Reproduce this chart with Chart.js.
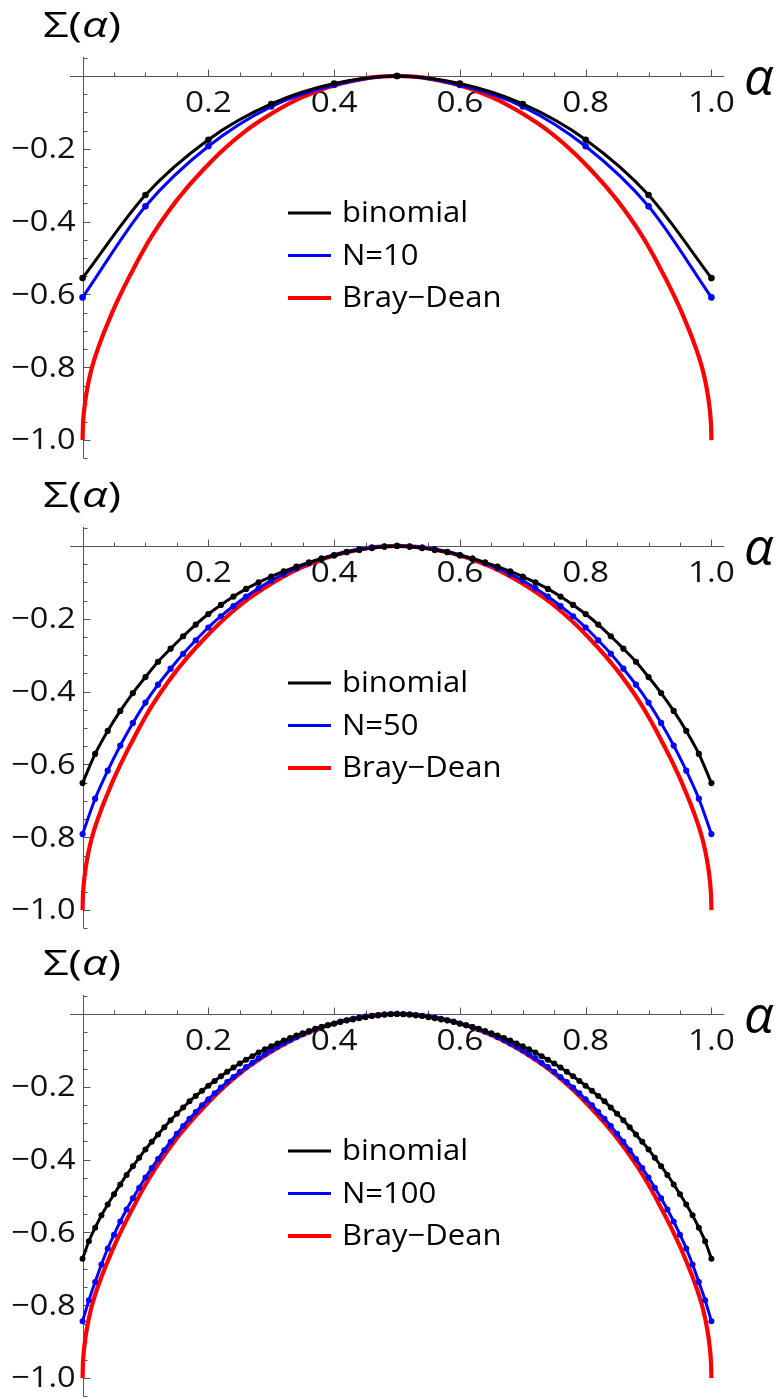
<!DOCTYPE html>
<html><head><meta charset="utf-8">
<script src="https://cdn.jsdelivr.net/npm/chart.js@4.4.1/dist/chart.umd.min.js"></script>
<style>
html,body{margin:0;padding:0;background:#fff;overflow:hidden;width:779px;height:1399px}
canvas{position:absolute;left:0}
</style></head>
<body>
<canvas id="c1" width="779" height="469" style="top:0px"></canvas>
<canvas id="c2" width="779" height="469" style="top:470px"></canvas>
<canvas id="c3" width="779" height="469" style="top:938px"></canvas>
<script>
// ---------- data ----------
const xTickLabels = ['0.2','0.4','0.6','0.8','1.0'];
const xTickValues = [0.2,0.4,0.6,0.8,1.0];
const yTickLabels = ['\u22120.2','\u22120.4','\u22120.6','\u22120.8','\u22121.0'];
const yTickValues = [-0.2,-0.4,-0.6,-0.8,-1.0];
const seriesNames10 = ['binomial','N=10','Bray\u2212Dean'];
const seriesNames50 = ['binomial','N=50','Bray\u2212Dean'];
const seriesNames100 = ['binomial','N=100','Bray\u2212Dean'];

const alpha10 = [0,0.1,0.2,0.3,0.4,0.5,0.6,0.7,0.8,0.9,1.0];
const binom10 = [-0.555,-0.327,-0.175,-0.077,-0.021,0,-0.021,-0.077,-0.175,-0.327,-0.555];
const model10 = [-0.608,-0.358,-0.193,-0.084,-0.025,0,-0.025,-0.084,-0.193,-0.358,-0.608];

const alpha50 = [0,0.02,0.04,0.06,0.08,0.1,0.12,0.14,0.16,0.18,0.2,0.22,0.24,0.26,0.28,0.3,0.32,0.34,0.36,0.38,0.4,0.42,0.44,0.46,0.48,0.5,
  0.52,0.54,0.56,0.58,0.6,0.62,0.64,0.66,0.68,0.7,0.72,0.74,0.76,0.78,0.8,0.82,0.84,0.86,0.88,0.9,0.92,0.94,0.96,0.98,1.0];
const binom50 = [-0.651,-0.571,-0.508,-0.453,-0.404,-0.360,-0.318,-0.282,-0.248,-0.216,-0.187,-0.162,-0.139,-0.118,-0.100,-0.084,-0.070,-0.057,-0.045,-0.035,-0.026,-0.017,-0.011,-0.006,-0.002,0,
  -0.002,-0.006,-0.011,-0.017,-0.026,-0.035,-0.045,-0.057,-0.070,-0.084,-0.100,-0.118,-0.139,-0.162,-0.187,-0.216,-0.248,-0.282,-0.318,-0.360,-0.404,-0.453,-0.508,-0.571,-0.651];
const model50 = [-0.791,-0.694,-0.617,-0.548,-0.486,-0.430,-0.381,-0.337,-0.296,-0.259,-0.224,-0.193,-0.165,-0.139,-0.116,-0.095,-0.077,-0.061,-0.047,-0.035,-0.025,-0.016,-0.009,-0.004,-0.001,0,
  -0.001,-0.004,-0.009,-0.016,-0.025,-0.035,-0.047,-0.061,-0.077,-0.095,-0.116,-0.139,-0.165,-0.193,-0.224,-0.259,-0.296,-0.337,-0.381,-0.430,-0.486,-0.548,-0.617,-0.694,-0.791];

const alpha100 = [0,0.01,0.02,0.03,0.04,0.05,0.06,0.07,0.08,0.09,0.1,0.11,0.12,0.13,0.14,0.15,0.16,0.17,0.18,0.19,0.2,
  0.21,0.22,0.23,0.24,0.25,0.26,0.27,0.28,0.29,0.3,0.31,0.32,0.33,0.34,0.35,0.36,0.37,0.38,0.39,0.4,
  0.41,0.42,0.43,0.44,0.45,0.46,0.47,0.48,0.49,0.5,0.51,0.52,0.53,0.54,0.55,0.56,0.57,0.58,0.59,0.6,
  0.61,0.62,0.63,0.64,0.65,0.66,0.67,0.68,0.69,0.7,0.71,0.72,0.73,0.74,0.75,0.76,0.77,0.78,0.79,0.8,
  0.81,0.82,0.83,0.84,0.85,0.86,0.87,0.88,0.89,0.9,0.91,0.92,0.93,0.94,0.95,0.96,0.97,0.98,0.99,1.0];
const binom100 = [-0.672,-0.624,-0.587,-0.553,-0.523,-0.495,-0.468,-0.442,-0.418,-0.395,-0.372,-0.351,-0.331,-0.311,-0.292,-0.274,-0.257,-0.240,-0.225,-0.211,-0.197,
  -0.184,-0.171,-0.159,-0.147,-0.136,-0.126,-0.116,-0.106,-0.097,-0.089,-0.081,-0.073,-0.066,-0.059,-0.053,-0.047,-0.041,-0.036,-0.031,-0.027,
  -0.022,-0.018,-0.015,-0.012,-0.009,-0.006,-0.004,-0.002,-0.001,0,-0.001,-0.002,-0.004,-0.006,-0.009,-0.012,-0.015,-0.018,-0.022,-0.027,
  -0.031,-0.036,-0.041,-0.047,-0.053,-0.059,-0.066,-0.073,-0.081,-0.089,-0.097,-0.106,-0.116,-0.126,-0.136,-0.147,-0.159,-0.171,-0.184,-0.197,
  -0.211,-0.225,-0.240,-0.257,-0.274,-0.292,-0.311,-0.331,-0.351,-0.372,-0.395,-0.418,-0.442,-0.468,-0.495,-0.523,-0.553,-0.587,-0.624,-0.672];
const model100 = [-0.844,-0.786,-0.736,-0.688,-0.644,-0.606,-0.570,-0.537,-0.506,-0.477,-0.449,-0.423,-0.398,-0.374,-0.351,-0.329,-0.308,-0.288,-0.269,-0.251,-0.234,
  -0.218,-0.202,-0.187,-0.173,-0.159,-0.146,-0.134,-0.122,-0.111,-0.100,-0.090,-0.081,-0.072,-0.064,-0.056,-0.049,-0.042,-0.036,-0.031,-0.026,
  -0.021,-0.017,-0.013,-0.010,-0.007,-0.005,-0.003,-0.001,-0.0005,0,-0.0005,-0.001,-0.003,-0.005,-0.007,-0.010,-0.013,-0.017,-0.021,-0.026,
  -0.031,-0.036,-0.042,-0.049,-0.056,-0.064,-0.072,-0.081,-0.090,-0.100,-0.111,-0.122,-0.134,-0.146,-0.159,-0.173,-0.187,-0.202,-0.218,-0.234,
  -0.251,-0.269,-0.288,-0.308,-0.329,-0.351,-0.374,-0.398,-0.423,-0.449,-0.477,-0.506,-0.537,-0.570,-0.606,-0.644,-0.688,-0.736,-0.786,-0.844];

const alphaBD = [0,0.0005,0.001,0.002,0.003,0.004,0.005,0.0075,0.01,0.0125,0.015,0.0175,0.02,0.025,0.03,0.035,0.04,0.045,0.05,
  0.06,0.07,0.08,0.09,0.1,0.11,0.12,0.13,0.14,0.15,0.16,0.17,0.18,0.19,0.2,
  0.22,0.24,0.26,0.28,0.3,0.32,0.34,0.36,0.38,0.4,0.42,0.44,0.46,0.48,0.5,
  0.52,0.54,0.56,0.58,0.6,0.62,0.64,0.66,0.68,0.7,0.72,0.74,0.76,0.78,0.8,
  0.81,0.82,0.83,0.84,0.85,0.86,0.87,0.88,0.89,0.9,0.91,0.92,0.93,0.94,0.95,
  0.955,0.96,0.965,0.97,0.975,0.98,0.9825,0.985,0.9875,0.99,0.9925,0.995,0.996,0.997,0.998,0.999,0.9995,1.0];
const sigmaBD = [-1.0,-0.963,-0.948,-0.926,-0.910,-0.896,-0.884,-0.858,-0.836,-0.817,-0.800,-0.785,-0.771,-0.746,-0.722,-0.700,-0.679,-0.658,-0.638,
  -0.601,-0.566,-0.533,-0.500,-0.469,-0.440,-0.413,-0.388,-0.364,-0.341,-0.320,-0.299,-0.280,-0.261,-0.243,
  -0.209,-0.178,-0.150,-0.126,-0.104,-0.084,-0.066,-0.051,-0.037,-0.026,-0.017,-0.010,-0.004,-0.001,0,
  -0.001,-0.004,-0.010,-0.017,-0.026,-0.037,-0.051,-0.066,-0.084,-0.104,-0.126,-0.150,-0.178,-0.209,-0.243,
  -0.261,-0.280,-0.299,-0.320,-0.341,-0.364,-0.388,-0.413,-0.440,-0.469,-0.500,-0.533,-0.566,-0.601,-0.638,
  -0.658,-0.679,-0.700,-0.722,-0.746,-0.771,-0.785,-0.800,-0.817,-0.836,-0.858,-0.884,-0.896,-0.910,-0.926,-0.948,-0.963,-1.0];

// ---------- drawing helpers ----------
const FONT = '"Open Sans", "Liberation Sans", sans-serif';
const AXIS_COLOR = '#555';

function pts(xs, ys) { return xs.map((v, i) => ({x: v, y: ys[i]})); }

function stretchText(ctx, text, x, y, align, sx) {
  const w = ctx.measureText(text).width * sx;
  let left = x;
  if (align === 'center') left = x - w / 2;
  else if (align === 'right') left = x - w;
  ctx.save();
  ctx.textAlign = 'left';
  ctx.translate(left, y);
  ctx.scale(sx, 1);
  ctx.fillText(text, 0, 0);
  ctx.restore();
}

const decorPlugin = {
  id: 'decor',
  beforeDatasetsDraw(chart) {
    const {ctx} = chart;
    const xs = chart.scales.x, ys = chart.scales.y;
    const x0 = Math.round(xs.getPixelForValue(0)) + 0.5;
    const y0 = Math.round(ys.getPixelForValue(0)) + 0.5;
    ctx.save();
    ctx.strokeStyle = AXIS_COLOR;
    ctx.lineWidth = 1;
    ctx.beginPath();
    ctx.moveTo(xs.left, y0); ctx.lineTo(xs.right, y0);
    ctx.moveTo(x0, ys.top); ctx.lineTo(x0, ys.bottom);
    for (let k = 1; k <= 20; k++) {
      const v = k * 0.05;
      const px = Math.round(xs.getPixelForValue(v)) + 0.5;
      const len = (k % 4 === 0) ? 7 : 4;
      ctx.moveTo(px, y0); ctx.lineTo(px, y0 - len);
    }
    for (let k = -21; k <= 1; k++) {
      if (k === 0) continue;
      const v = k * 0.05;
      const py = Math.round(ys.getPixelForValue(v)) + 0.5;
      const len = (k % 4 === 0) ? 7 : 4;
      ctx.moveTo(x0, py); ctx.lineTo(x0 + len, py);
    }
    ctx.stroke();

    ctx.fillStyle = '#111';
    ctx.font = '29px ' + FONT;
    ctx.textBaseline = 'middle';
    xTickValues.forEach((v, i) => {
      stretchText(ctx, xTickLabels[i], xs.getPixelForValue(v), y0 + 27, 'center', 1.15);
    });
    yTickValues.forEach((v, i) => {
      stretchText(ctx, yTickLabels[i], x0 - 8, ys.getPixelForValue(v) + 1, 'right', 1.12);
    });

    ctx.textBaseline = 'alphabetic';
    ctx.fillStyle = '#000';
    const parts = [['\u03A3(', ''], ['\u03B1', 'italic '], [')', '']];
    let natural = 0;
    parts.forEach(p => { ctx.font = p[1] + '34px ' + FONT; natural += ctx.measureText(p[0]).width; });
    const tsx = 78 / natural;
    let tx = 43;
    parts.forEach(p => {
      ctx.font = p[1] + '34px ' + FONT;
      stretchText(ctx, p[0], tx, 37, 'left', tsx);
      tx += ctx.measureText(p[0]).width * tsx;
    });
    ctx.font = 'italic 52px ' + FONT;
    ctx.textAlign = 'left';
    ctx.fillText('\u03B1', 744, 95);

    const names = chart.options.plugins.decor.names;
    const colors = ['#000', '#0000ff', '#ff0000'];
    const widths = [3, 3, 4];
    ctx.font = '29px ' + FONT;
    ctx.textBaseline = 'middle';
    for (let i = 0; i < 3; i++) {
      const ly = 213 + i * 42.5;
      ctx.strokeStyle = colors[i];
      ctx.lineWidth = widths[i];
      ctx.beginPath(); ctx.moveTo(288, ly); ctx.lineTo(331, ly); ctx.stroke();
      ctx.fillStyle = '#000';
      stretchText(ctx, names[i], 342, ly + 1, 'left', 1.07);
    }
    ctx.restore();
  }
};

function makeChart(id, alphaN, binomN, modelN, names, r) {
  new Chart(document.getElementById(id), {
    type: 'line',
    data: {
      datasets: [
        {data: pts(alphaN, binomN), borderColor: '#000', backgroundColor: '#000', borderWidth: 3,
         pointRadius: r, pointBorderWidth: 0, pointBackgroundColor: '#000', cubicInterpolationMode: 'monotone', clip: false},
        {data: pts(alphaN, modelN), borderColor: '#0000ff', backgroundColor: '#0000ff', borderWidth: 3,
         pointRadius: r, pointBorderWidth: 0, pointBackgroundColor: '#0000ff', cubicInterpolationMode: 'monotone', clip: false},
        {data: pts(alphaBD, sigmaBD), borderColor: '#ff0000', borderWidth: 4.2,
         pointRadius: 0, cubicInterpolationMode: 'monotone', clip: false}
      ]
    },
    options: {
      responsive: false, animation: false, devicePixelRatio: 1,
      layout: {padding: {left: 70, right: 55, top: 57, bottom: 11}},
      scales: {
        x: {type: 'linear', min: -0.02, max: 1.02, display: false},
        y: {type: 'linear', min: -1.049, max: 0.052, display: false}
      },
      plugins: {legend: {display: false}, tooltip: {enabled: false}, decor: {names: names}},
      elements: {line: {borderCapStyle: 'butt', borderJoinStyle: 'round'}}
    },
    plugins: [decorPlugin]
  });
}

makeChart('c1', alpha10, binom10, model10, seriesNames10, 3.3);
makeChart('c2', alpha50, binom50, model50, seriesNames50, 3.1);
makeChart('c3', alpha100, binom100, model100, seriesNames100, 3.0);
</script>
</body></html>
